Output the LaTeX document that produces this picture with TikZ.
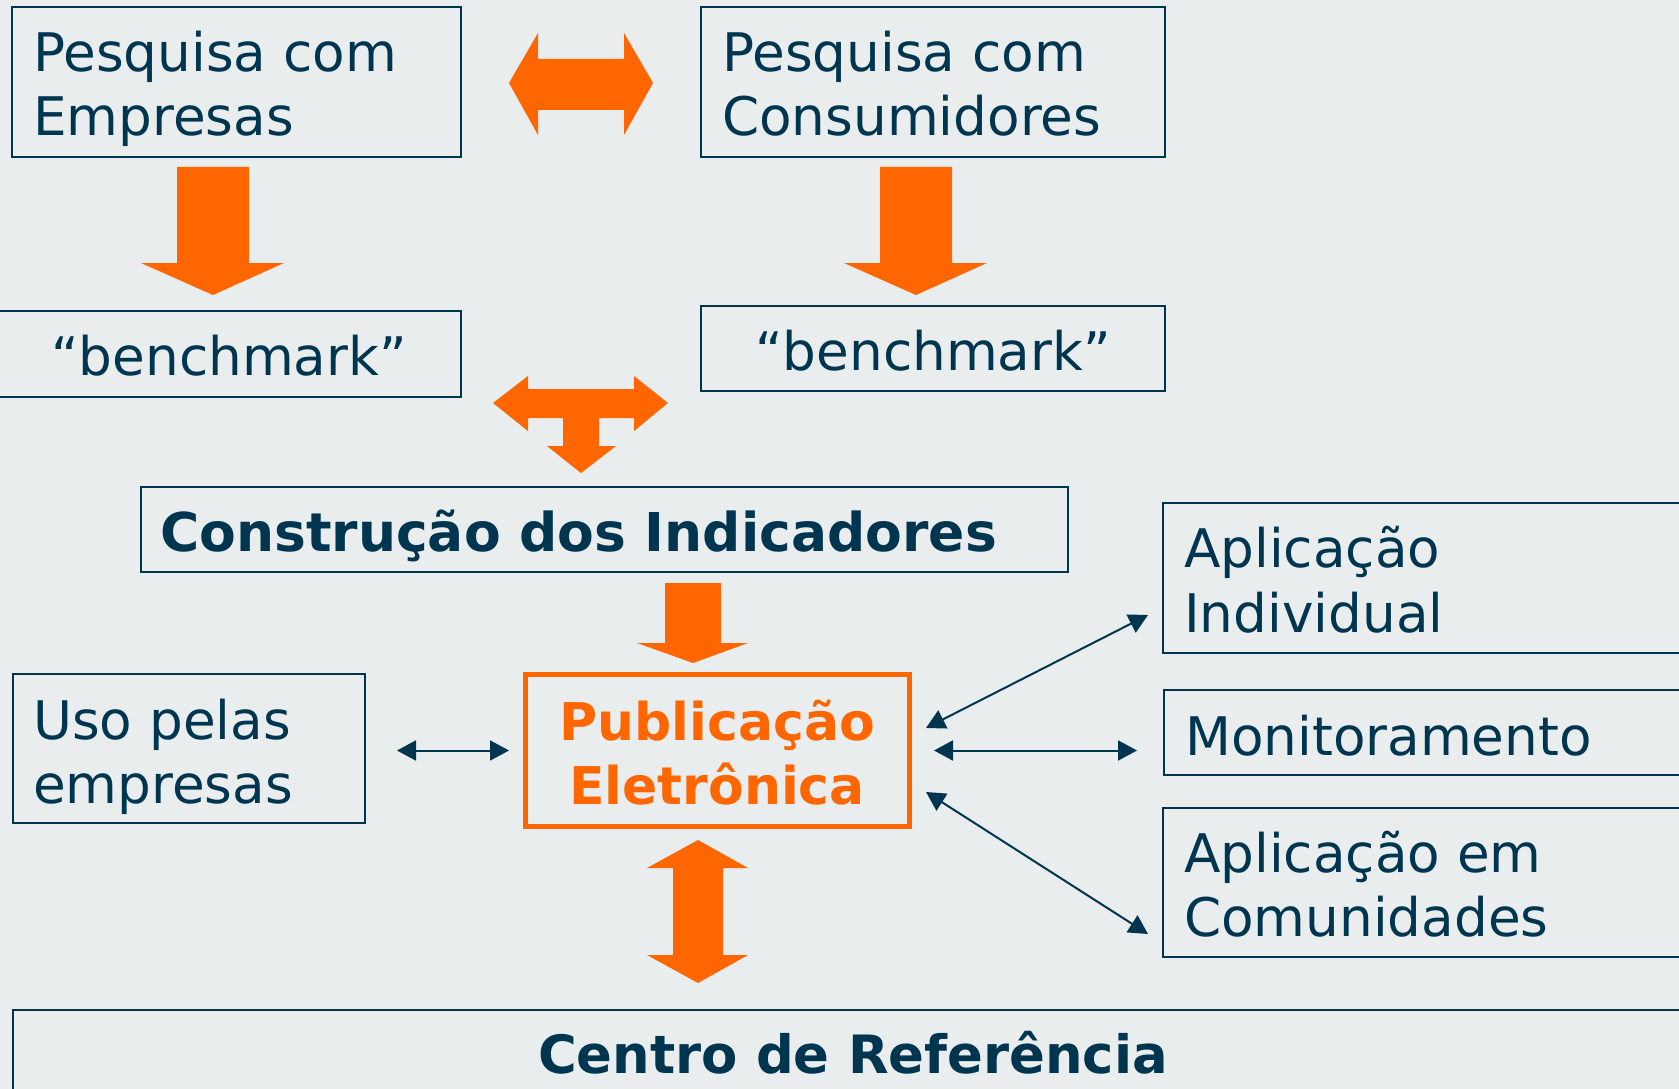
\documentclass[tikz,border=0pt]{standalone}
\usepackage{fontspec}
\setmainfont{DejaVu Sans}
\usetikzlibrary{arrows.meta,calc}
\definecolor{navy}{HTML}{00354F}
\definecolor{orng}{HTML}{FF6600}
\definecolor{bgc}{HTML}{E9EDEE}
\begin{document}
\begin{tikzpicture}[x=1pt,y=-1pt,
  box/.style={draw=navy,line width=1.8pt,rectangle,inner sep=0pt,outer sep=0pt,anchor=north west},
  pbox/.style={draw=orng,line width=5pt,rectangle,inner sep=0pt,outer sep=0pt,anchor=north west},
  txt/.style={text=navy,font=\fontsize{53.2}{64}\selectfont,inner sep=0pt,anchor=base west},
  btxt/.style={text=navy,font=\bfseries\fontsize{53.5}{64}\selectfont,inner sep=0pt},
  ptxt/.style={text=orng,font=\bfseries\fontsize{52}{64}\selectfont,inner sep=0pt},
  blk/.style={fill=orng,draw=none},
  link/.style={draw=navy,line width=2pt,{Triangle[length=19pt,width=20pt]}-{Triangle[length=19pt,width=20pt]}}
]
\fill[bgc] (0,0) rectangle (1679,1089);
\useasboundingbox (0,0) rectangle (1679,1089);

% boxes
\node[box,minimum width=449,minimum height=150] (emp) at (12,7) {};
\node[box,minimum width=464,minimum height=150] (con) at (701,7) {};
\node[box,minimum width=466,minimum height=86] (bench1) at (-5,311) {};
\node[box,minimum width=464,minimum height=85] (bench2) at (701,306) {};
\node[box,minimum width=927,minimum height=85] (cons) at (141,487) {};
\node[box,minimum width=352,minimum height=149] (uso) at (13,674) {};
\node[pbox,minimum width=384,minimum height=152] (pub) at (525,674.5) {};
\node[box,minimum width=600,minimum height=150] (ind) at (1163,503) {};
\node[box,minimum width=600,minimum height=85] (mon) at (1164,690) {};
\node[box,minimum width=600,minimum height=149] (com) at (1163,808) {};
\node[box,minimum width=1700,minimum height=120] (centro) at (13,1010) {};

% texts
\node[txt] (empA) at (33,72) {Pesquisa com};
\node[txt] (empB) at (33,136) {Empresas};
\node[txt] (conA) at (722,72) {Pesquisa com};
\node[txt] (conB) at (722,136) {Consumidores};
\node[txt,anchor=base] (b1) at (229,375) {“benchmark”};
\node[txt,anchor=base] (b2) at (933,370) {“benchmark”};
\node[btxt,anchor=base west] (consT) at (160,551) {Construção dos Indicadores};
\node[txt] (usoA) at (33,739) {Uso pelas};
\node[txt] (usoB) at (33,803) {empresas};
\node[ptxt,anchor=base] (pubA) at (717,740) {Publicação};
\node[ptxt,anchor=base] (pubB) at (717,804) {Eletrônica};
\node[txt] (indA) at (1184,567) {Aplicação};
\node[txt] (indB) at (1184,632) {Individual};
\node[txt] (monT) at (1185,755) {Monitoramento};
\node[txt] (comA) at (1184,872) {Aplicação em};
\node[txt] (comB) at (1184,936) {Comunidades};
\node[btxt,anchor=base,font=\bfseries\fontsize{52.8}{64}\selectfont] (cenT) at (853,1073) {Centro de Referência};

% orange block arrows
\fill[blk] (509,83) -- (538,33) -- (538,59) -- (624,59) -- (624,33) -- (653,83)
  -- (624,135) -- (624,110) -- (538,110) -- (538,135) -- cycle;
\fill[blk] (177,167) -- (249,167) -- (249,263) -- (284,263) -- (213,295) -- (141,263) -- (177,263) -- cycle;
\fill[blk] (880,167) -- (952,167) -- (952,263) -- (987,263) -- (916,295) -- (844,263) -- (880,263) -- cycle;
\fill[blk] (493,403) -- (528,376) -- (528,389) -- (634,389) -- (634,376) -- (668,403)
  -- (634,431) -- (634,418) -- (599,418) -- (599,446) -- (616,446) -- (581,473)
  -- (547,446) -- (563,446) -- (563,418) -- (528,418) -- (528,431) -- cycle;
\fill[blk] (665,583) -- (721,583) -- (721,643) -- (748,643) -- (693,663) -- (637,643) -- (665,643) -- cycle;
\fill[blk] (698,840) -- (748,868) -- (723,868) -- (723,955) -- (748,955) -- (698,983)
  -- (647,955) -- (673,955) -- (673,868) -- (647,868) -- cycle;

% thin connectors
\draw[link] ($(uso.east |- pub.west)+(32,0)$) -- ($(pub.west)+(-16,0)$);
\draw[link] ($(pub.east)+(17,-22.5)$) -- ($(ind.west)+(-15,37)$);
\draw[link] ($(pub.east)+(25,0)$) -- ($(pub.east -| mon.west)+(-27,0)$);
\draw[link] ($(pub.east)+(17,41.5)$) -- ($(com.west)+(-15,51.5)$);
\end{tikzpicture}
\end{document}
